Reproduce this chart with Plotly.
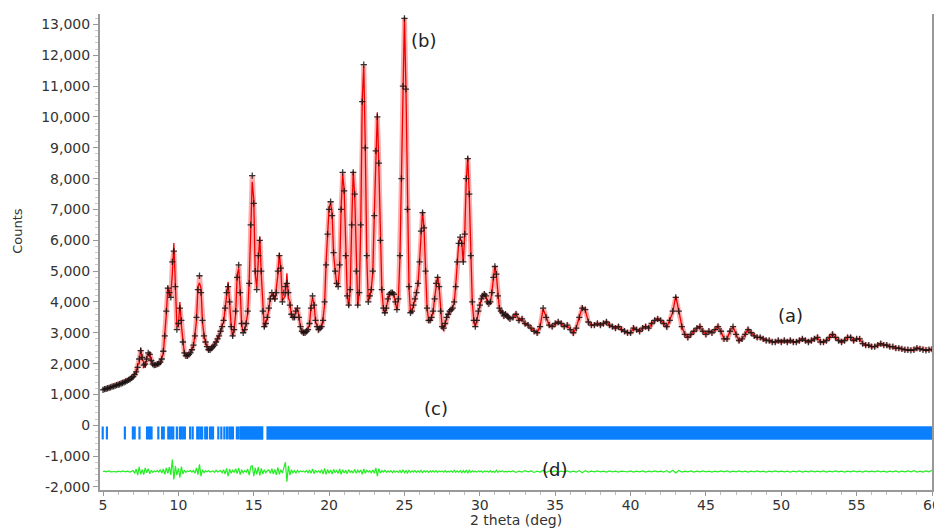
import numpy as np
import plotly.graph_objects as go

# ---------------- data ----------------
# 2-theta grids: 0.1 deg steps to 32 deg, 0.2 deg steps above
two_theta_low = np.round(np.arange(5.0, 32.0001, 0.1), 2)
two_theta_high = np.round(np.arange(32.2, 60.0001, 0.2), 2)

obs_low = [
    1150, 1170, 1180, 1200, 1210, 1230, 1250, 1260, 1280, 1300,   # 5.x
    1310, 1330, 1350, 1370, 1390, 1420, 1440, 1470, 1500, 1540,   # 6.x
    1580, 1640, 1730, 1880, 2150, 2420, 2200, 1950, 1980, 2150,   # 7.x
    2350, 2300, 2100, 1980, 1950, 1960, 1980, 2000, 2050, 2150,   # 8.x
    2400, 2900, 3700, 4450, 4300, 4150, 5300, 5650, 4500, 3100,   # 9.x
    3300, 3800, 3400, 2700, 2350, 2250, 2250, 2300, 2350, 2450,   # 10.x
    2600, 2900, 3500, 4400, 4850, 4300, 3400, 2900, 2700, 2550,   # 11.x
    2450, 2450, 2500, 2550, 2600, 2700, 2800, 2900, 3050, 3200,   # 12.x
    3400, 3800, 4300, 4500, 4000, 3200, 2900, 3100, 3700, 4800,   # 13.x
    5200, 4300, 3300, 3000, 3100, 3300, 3700, 4600, 6500, 8100,   # 14.x
    7200, 5000, 4400, 5500, 6000, 5000, 3700, 3200, 3300, 3500,   # 15.x
    3800, 4100, 4300, 4200, 4100, 4300, 5000, 5500, 5100, 4000,   # 16.x
    4300, 4500, 4600, 4300, 3900, 3600, 3500, 3500, 3700, 3800,   # 17.x
    3500, 3200, 3050, 3000, 3000, 3050, 3100, 3300, 3800, 4200,   # 18.x
    3900, 3400, 3200, 3100, 3150, 3200, 3400, 4000, 5200, 6200,   # 19.x
    7000, 7250, 6800, 5600, 5000, 4600, 4500, 5200, 7000, 8200,   # 20.x
    7600, 5500, 4200, 3900, 4400, 6500, 8200, 7500, 5000, 3900,   # 21.x
    4300, 6500, 10500, 11700, 9000, 5500, 4000, 4200, 4400, 5000, # 22.x
    6800, 8900, 10000, 8500, 6000, 4400, 3800, 3650, 3800, 4100,  # 23.x
    4250, 4300, 4300, 4250, 4000, 3750, 4100, 5500, 8000, 11000,  # 24.x
    13200, 10900, 7000, 4500, 3650, 3700, 3900, 4100, 4300, 4600, # 25.x
    5300, 6300, 6900, 6400, 5000, 3800, 3400, 3400, 3500, 3700,   # 26.x
    4100, 4600, 4800, 4500, 3700, 3200, 3150, 3300, 3500, 3600,   # 27.x
    3700, 3750, 3800, 4000, 4500, 5300, 5900, 6100, 5900, 5300,   # 28.x
    6200, 8000, 8650, 7500, 5500, 4000, 3400, 3200, 3400, 3700,   # 29.x
    3900, 4100, 4200, 4250, 4200, 4000, 3950, 4000, 4300, 4800,   # 30.x
    5150, 4900, 4200, 3800, 3700, 3650, 3550, 3600, 3550, 3500,   # 31.x
    3450,                                                          # 32.0
]

obs_high = [
    3500, 3600, 3400, 3450, 3300, 3250, 3150, 3050, 3000, 3200,   # 32.2-34.0
    3800, 3500, 3250, 3200, 3300, 3350, 3300, 3200, 3250, 3100,   # 34.2-36.0
    3000, 3150, 3500, 3800, 3750, 3350, 3250, 3250, 3300, 3250,   # 36.2-38.0
    3300, 3350, 3250, 3200, 3150, 3200, 3100, 3050, 3000, 3000,   # 38.2-40.0
    3150, 3100, 3050, 3150, 3200, 3150, 3300, 3400, 3450, 3400,   # 40.2-42.0
    3300, 3200, 3400, 3700, 4150, 3700, 3200, 2950, 2850, 2950,   # 42.2-44.0
    3050, 3150, 3200, 3050, 2950, 3050, 3000, 3100, 3200, 3050,   # 44.2-46.0
    2800, 2800, 3050, 3200, 2950, 2750, 2800, 2950, 3100, 3000,   # 46.2-48.0
    2900, 2850, 2850, 2800, 2750, 2750, 2700, 2700, 2750, 2700,   # 48.2-50.0
    2750, 2700, 2750, 2700, 2700, 2750, 2800, 2750, 2700, 2750,   # 50.2-52.0
    2800, 2850, 2700, 2700, 2750, 2850, 2950, 2850, 2750, 2700,   # 52.2-54.0
    2750, 2850, 2850, 2750, 2800, 2800, 2650, 2600, 2600, 2550,   # 54.2-56.0
    2550, 2600, 2650, 2600, 2600, 2550, 2550, 2500, 2500, 2480,   # 56.2-58.0
    2450, 2450, 2430, 2450, 2500, 2480, 2450, 2430, 2450, 2470,   # 58.2-60.0
]

# difference (obs - calc)
diff_low = [
    0, 10, -10, 0, 20, -10, 0, 10, 0, -20,
    10, 0, -10, 20, 0, -10, 10, 0, -20, 10,
    30, -60, 80, -120, 150, -90, 60, -100, 120, -40,
    90, -70, 40, -30, 20, -10, 30, -20, 60, -50,
    80, -90, 120, -60, 140, -110, 390, -260, 180, -120,
    100, -200, 160, -80, 40, -30, 20, 0, 30, -20,
    40, -60, 120, -100, 230, -150, 60, -40, 20, -10,
    30, -20, 10, 20, -30, 40, -20, 10, 30, -40,
    60, -80, 100, -150, 80, -60, 40, -30, 90, -70,
    110, -100, 60, -40, 30, -20, 80, -120, 150, 200,
    -150, 120, -90, 140, -130, 100, -80, 60, -40, 30,
    50, -60, 90, -80, 70, -110, 130, -90, 60, -50,
    150, 300, -330, 180, -120, 60, -40, 30, -50, 40,
    -30, 20, -10, 20, -20, 30, -40, 50, -60, 80,
    -70, 40, -30, 20, -40, 60, -80, 100, -90, 70,
    -60, 50, -80, 70, -40, 30, -60, 80, -90, 60,
    -50, 40, -70, 60, -30, 20, -50, 70, -60, 40,
    -30, 50, -90, 80, -60, 40, -20, 30, -40, 50,
    -60, 120, -150, 90, -50, 30, -20, 40, -30, 20,
    -20, 30, -40, 30, -20, 10, -30, 40, -50, 60,
    -40, 30, -50, 40, -30, 20, -20, 30, -30, 20,
    -30, 40, -40, 30, -20, 20, -30, 20, -20, 30,
    -20, 30, -30, 20, -10, 20, -20, 30, -20, 10,
    -20, 20, -30, 40, -30, 20, -20, 30, -40, 30,
    -30, 50, -60, 40, -30, 20, -20, 10, -20, 20,
    -10, 20, -30, 20, -10, 20, -20, 30, -20, 10,
    -30, 40, -30, 20, -10, 20, -20, 10, -20, 10,
    -10,
]

diff_high = [
    20, -30, 10, -20, 30, -10, 20, -30, 10, -20,
    40, -30, 20, -10, 20, -20, 10, -10, 20, -20,
    10, -20, 30, -40, 30, -20, 10, -10, 20, -10,
    10, -20, 20, -10, 10, -20, 10, 0, -10, 20,
    -20, 10, -10, 20, -20, 10, -10, 20, -10, 10,
    -20, 30, -30, 40, -50, 30, -20, 10, -10, 20,
    -20, 10, -10, 20, -10, 10, -20, 10, -10, 20,
    -10, 20, -20, 10, -10, 20, -10, 10, -20, 10,
    -10, 20, -10, 10, -20, 10, -10, 20, -10, 10,
    -10, 10, -20, 10, -10, 20, -20, 10, -10, 20,
    -10, 10, -10, 20, -20, 10, -10, 20, -10, 10,
    -20, 10, -10, 20, -10, 10, -20, 20, -10, 10,
    -10, 20, -10, 10, -20, 10, -10, 20, -20, 10,
    -10, 20, -10, 30, -20, 10, -20, 20, -10, 40,
]

# reflection positions (individual ticks) and regions where ticks merge into a band
reflections = [4.98, 5.26, 6.45, 6.98, 7.1, 7.42, 7.92, 8.02, 8.12, 8.22, 8.67,
               8.92, 9.03, 9.33, 9.43, 9.55, 9.66, 9.9, 10.1, 10.2, 10.32, 10.43,
               10.78, 10.95, 11.25, 11.35, 11.47, 11.58, 11.78, 11.9, 12.1, 12.2,
               12.3, 12.65, 12.85, 13.05, 13.22, 13.38, 13.5, 13.62, 13.88, 14.0]
reflection_bands = [[14.08, 15.62], [15.86, 60.0]]

diff_offset = -1500
tick_top, tick_bottom = -40, -460

y_ticks = list(range(-2000, 13001, 1000))
y_tick_text = [f"{v:,}" for v in y_ticks]
x_ticks = list(range(5, 61, 5))

# ---------------- build ----------------
x = np.concatenate([two_theta_low, two_theta_high])
obs = np.array(obs_low + obs_high, dtype=float)
diff = np.array(diff_low + diff_high, dtype=float)
calc = obs - diff

fig = go.Figure()

# reflection ticks
tx, ty = [], []
for p in reflections:
    tx += [p, p, None]
    ty += [tick_top, tick_bottom, None]
fig.add_trace(go.Scatter(x=tx, y=ty, mode="lines",
                         line=dict(color="#0a80ff", width=2.2), hoverinfo="skip"))
bx, by = [], []
for a, b in reflection_bands:
    bx += [a, b, b, a, a, None]
    by += [tick_top, tick_top, tick_bottom, tick_bottom, tick_top, None]
fig.add_trace(go.Scatter(x=bx, y=by, mode="lines", fill="toself",
                         fillcolor="#0a80ff", line=dict(color="#0a80ff", width=0.5),
                         hoverinfo="skip"))

# difference curve
fig.add_trace(go.Scatter(x=x, y=diff + diff_offset, mode="lines",
                         line=dict(color="#22ee22", width=1.2)))

# pink band around observed profile
fig.add_trace(go.Scatter(x=x, y=obs, mode="lines",
                         line=dict(color="rgba(255,70,70,0.45)", width=5)))
# calculated
fig.add_trace(go.Scatter(x=x, y=calc, mode="lines",
                         line=dict(color="#ee0000", width=1.3)))
# observed markers
fig.add_trace(go.Scatter(x=x, y=obs, mode="markers",
                         marker=dict(symbol="cross-thin", size=4.5, color="#111",
                                     line=dict(color="rgba(20,20,20,0.85)", width=1.3))))

font_family = "DejaVu Sans, Liberation Sans, Arial, sans-serif"
for txt, xx, yy in [("(a)", 50.6, 3570), ("(b)", 26.25, 12490),
                    ("(c)", 27.1, 550), ("(d)", 34.93, -1430)]:
    fig.add_annotation(x=xx, y=yy, text=txt, showarrow=False,
                       font=dict(size=18, color="#222", family=font_family))

fig.add_annotation(xref="paper", yref="y", x=-0.1, y=6300, text="Counts",
                   textangle=-90, showarrow=False, xanchor="center",
                   font=dict(size=13, color="#333", family=font_family))
fig.add_annotation(xref="paper", yref="paper", x=0.5, y=-0.063, text="2 theta (deg)",
                   showarrow=False, yanchor="middle",
                   font=dict(size=14, color="#333", family=font_family))

# the page body adds an 8px margin, so the figure is sized/offset to compensate
fig.update_layout(
    width=934, height=521,
    margin=dict(l=92, r=10, t=6, b=39),
    plot_bgcolor="white", paper_bgcolor="white",
    showlegend=False,
    font=dict(family=font_family, size=14, color="#333"),
    xaxis=dict(range=[4.8, 60.0], tickvals=x_ticks, showgrid=False, zeroline=False,
               automargin=False,
               showline=True, linecolor="#999", linewidth=2,
               ticks="outside", ticklen=4, tickcolor="#999", tickwidth=1,
               ticklabelstandoff=-3,
               minor=dict(dtick=1, ticks="outside", ticklen=3, tickcolor="#bbb"),
               tickfont=dict(size=14, color="#333")),
    yaxis=dict(range=[-2100, 13340], tickvals=y_ticks, ticktext=y_tick_text,
               automargin=False,
               showgrid=False, zeroline=False, showline=True, mirror=True,
               linecolor="#999", linewidth=2,
               ticks="outside", ticklen=5, tickcolor="#999", tickwidth=1,
               minor=dict(dtick=200, ticks="outside", ticklen=3, tickcolor="#ccc"),
               tickfont=dict(size=14, color="#333")),
)

fig.write_html("out.html")
